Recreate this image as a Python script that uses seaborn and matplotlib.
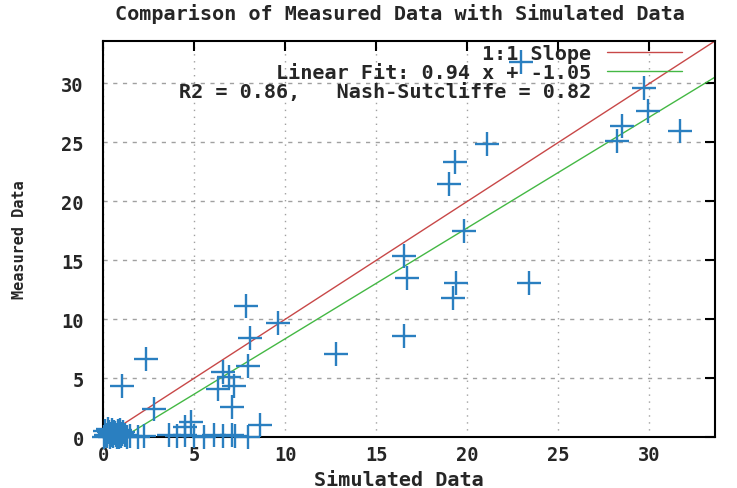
import numpy as np
import pandas as pd
import matplotlib.pyplot as plt
import seaborn as sns
from matplotlib.lines import Line2D

# values
simulated = [
    22.95, 29.7, 29.9, 28.5, 28.2, 31.7, 21.1, 19.3, 19.0, 19.8,
    16.5, 16.7, 19.4, 19.2, 23.4, 16.5, 12.8, 7.84, 9.58, 8.08,
    2.35, 7.97, 6.56, 6.92, 6.32, 7.2, 1.03, 7.07, 2.8, 4.82,
    8.63, 4.5,
    3.63, 4.08, 4.5, 5.0, 5.55, 6.1, 6.6, 7.07, 7.25, 7.98,
    0.05, 0.15, 0.2, 0.3, 0.35, 0.4, 0.5, 0.55, 0.6, 0.7,
    0.75, 0.8, 0.9, 1.0, 1.1, 1.2, 1.3, 0.25, 0.45, 0.65,
    0.85, 1.05, 1.5, 1.9, 2.25, 0.1, 0.95,
]
measured = [
    31.8, 29.6, 27.7, 26.4, 25.1, 26.0, 24.9, 23.3, 21.5, 17.5,
    15.4, 13.5, 13.1, 11.8, 13.1, 8.6, 7.06, 11.1, 9.69, 8.39,
    6.64, 6.07, 5.5, 5.08, 4.09, 4.37, 4.37, 2.54, 2.4, 1.27,
    1.07, 0.85,
    0.15, 0.1, 0.2, 0.1, 0.05, 0.15, 0.1, 0.2, 0.1, 0.05,
    0.0, 0.2, 0.1, 0.4, 0.0, 0.3, 0.6, 0.1, 0.45, 0.2,
    0.0, 0.5, 0.3, 0.1, 0.4, 0.2, 0.0, 0.7, 0.15, 0.35,
    0.05, 0.25, 0.1, 0.05, 0.1, 0.5, 0.6,
]
fit_slope = 0.94
fit_intercept = -1.05
r2 = 0.86
nse = 0.82
axis_max = 33.6
x_ticks = [0, 5, 10, 15, 20, 25, 30]
y_ticks = [0, 5, 10, 15, 20, 25, 30]

df = pd.DataFrame({'Simulated Data': simulated, 'Measured Data': measured})

sns.set_style('white')
mono = {'family': 'DejaVu Sans Mono', 'weight': 'bold', 'size': 14.5}
mono_tick = dict(mono, size=13.5)
mono_ylab = dict(mono, size=11)

fig = plt.figure(figsize=(7.37, 4.89), dpi=100)
ax = fig.add_axes([0.140, 0.104, 0.830, 0.810])

# 1:1 线和线性拟合线
line_x = np.array([0, axis_max])
ax.plot(line_x, line_x, color='#c84848', lw=1.0, label='1:1 Slope', zorder=2)
ax.plot(line_x, fit_slope * line_x + fit_intercept, color='#44b844', lw=1.0,
        label=f'Linear Fit: {fit_slope} x + {fit_intercept}', zorder=2)

sns.scatterplot(data=df, x='Simulated Data', y='Measured Data', ax=ax,
                marker='+', s=320, linewidth=1.7, color='#2a7fc0', zorder=3,
                legend=False, clip_on=False)

ax.set_xlim(0, axis_max)
ax.set_ylim(0, axis_max)
ax.set_xticks(x_ticks)
ax.set_yticks(y_ticks)
ax.set_xticklabels([str(t) for t in x_ticks], fontdict=mono_tick)
ax.set_yticklabels([str(t) for t in y_ticks], fontdict=mono_tick)
ax.tick_params(direction='in', length=7, width=1.5, top=True, right=True,
               labeltop=False, labelright=False, color='black')
ax.tick_params(axis='y', pad=14)
ax.tick_params(axis='x', pad=6)

ax.xaxis.grid(True, linestyle=(0, (1, 4)), color='#a0a0a0', lw=1.0)
ax.yaxis.grid(True, linestyle=(0, (3, 4)), color='#a0a0a0', lw=1.0)
ax.set_axisbelow(True)
for sp in ax.spines.values():
    sp.set_color('black')
    sp.set_linewidth(1.5)

ax.set_xlabel('Simulated Data', fontdict=mono)
ax.set_ylabel('Measured Data', fontdict=mono_ylab)
ax.xaxis.set_label_coords(0.484, -0.106)
ax.yaxis.set_label_coords(-0.137, 0.5)
ax.xaxis.label.set_va('center')
ax.yaxis.label.set_va('center')
fig.text(0.543, 0.971, 'Comparison of Measured Data with Simulated Data',
         ha='center', va='center', fontdict=mono)

handles, labels = ax.get_legend_handles_labels()
handles.append(Line2D([], [], color='none'))
labels.append(f'R2 = {r2},   Nash-Sutcliffe = {nse}')
leg = ax.legend(handles, labels, loc='upper right', frameon=False,
                markerfirst=False, handlelength=3.7, handletextpad=0.8,
                labelspacing=0.0, borderpad=0, borderaxespad=0,
                bbox_to_anchor=(0.946, 0.992), prop=mono)

fig.savefig('out.png', dpi=100)
